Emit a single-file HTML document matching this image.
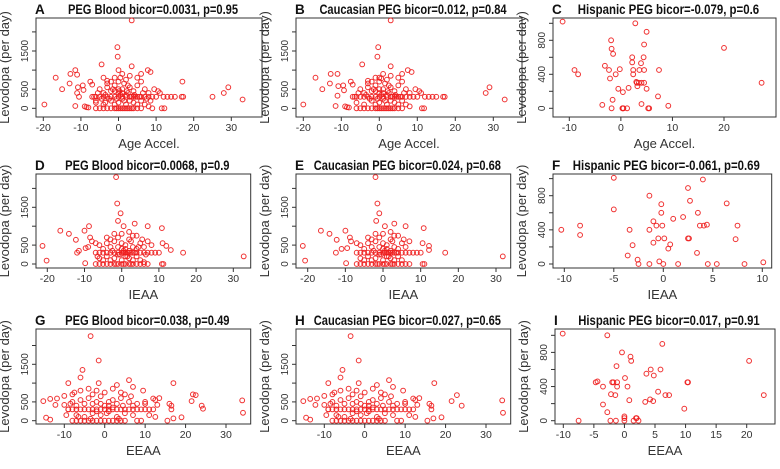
<!DOCTYPE html>
<html><head><meta charset="utf-8"><style>
body{margin:0;background:#fff;}
svg{display:block;font-family:"Liberation Sans",Arial,sans-serif;}
</style></head><body>
<svg id="fig" width="780" height="469" viewBox="0 0 780 469"></svg>
<script>
// ---------- data ----------
const bloodAgePts=[[-19.7,100],[-16.7,800],[-15,500],[-13,650],[-12.8,900],[-11.5,1000],[-11,880],[-11.5,60],[-11,400],[-10.8,550],[-10.5,300],[-9.5,600],[-9.3,480],[-9,50],[-8.5,30],[-8,20],[-7.5,700],[-7,620],[-6.5,300],[-6,200],[-4.5,1150],[-4,800],[-3,720],[-0.3,1600],[-0.2,1350],[3.5,2300],[3.5,1100],[0,1000],[7.8,1000],[8.5,950],[17,700],[25,300],[28,400],[29.2,550],[33,230],[11.5,0],[12.2,0],[15,300],[13,300],[16.8,300],[17.2,300],[14,300],[9.5,500],[10.5,450],[11,400],[12,300],
[-6,0],[-5,0],[-4,0],[-3,0],[-2,0],[-1,0],[0,0],[1,0],[2,0],[3,0],[4,0],[5,0],[6,0],[1.5,0],[2.5,0],[-0.5,0],[0.5,0],[3.5,0],
[-7,300],[-6,300],[-5,300],[-4,300],[-3,300],[-2,300],[-1,300],[0,300],[1,300],[2,300],[3,300],[4,300],[5,300],[6,300],[7,300],[8,300],[9,300],[10,300],[4.5,300],[5.5,300],[3.5,300],
[-5,500],[-4,400],[-3,550],[-2,450],[-1,600],[0,700],[0.5,800],[1,500],[1.5,650],[2,750],[2.5,400],[3,550],[4,450],[5,600],[6,700],[7,500],[8,400],[-6,150],[-4,100],[-2,200],[-1,100],[0,150],[1,250],[2,100],[3,200],[4,150],[5,100],[6,200],[7,100],[8,50],[9,0],[-3,650],[-1,800],[1,900],[3,850],[5,800],[6,900],[-2,700],[0,400],[0,500],[1,400],[2,350],[-1,450],[-0.5,250],[0.5,350],[1.5,200],[2.5,600],[-5.5,400],[-3.5,350],[-2.5,250],[-1.5,500],[0.2,450],[2.2,450],[4.2,350],[6.5,400],[7.5,250],[-4.5,250],[-3.5,150],[8.5,200]];
const caucAgePts=[[-20,100],[-16.8,800],[-15,500],[-13,650],[-12.8,900],[-11,900],[-11.5,60],[-11,330],[-10.8,580],[-9.5,600],[-9.3,470],[-9,50],[-8.5,30],[-8,20],[-7.5,700],[-7,620],[-6.5,300],[-4.5,1150],[-3,720],[-0.3,1600],[-0.5,1350],[3,2300],[3,1100],[0,800],[7.5,1000],[8.5,950],[28,400],[29,550],[33,230],[11.2,0],[11.8,0],[15,300],[13,300],[16.8,300],[17.2,300],[14,300],[9.5,500],[10.5,450],[11,400],[12,300],
[-6,0],[-5,0],[-4,0],[-3,0],[-2,0],[-1,0],[0,0],[1,0],[2,0],[3,0],[4,0],[5,0],[6,0],[1.5,0],[2.5,0],[-0.5,0],[0.5,0],[3.5,0],
[-7,300],[-6,300],[-5,300],[-4,300],[-3,300],[-2,300],[-1,300],[0,300],[1,300],[2,300],[3,300],[4,300],[5,300],[6,300],[7,300],[8,300],[9,300],[10,300],[4.5,300],[5.5,300],[3.5,300],
[-5,500],[-4,400],[-3,550],[-2,450],[-1,600],[0,700],[0.5,780],[1,500],[1.5,650],[2,750],[2.5,400],[3,550],[4,450],[5,600],[6,700],[7,500],[8,400],[-6,150],[-4,100],[-2,200],[-1,100],[0,150],[1,250],[2,100],[3,200],[4,150],[5,100],[6,200],[7,100],[8,50],[-3,650],[-1,800],[1,900],[3,850],[5,800],[6,900],[-2,700],[0,400],[0,500],[1,400],[2,350],[-1,450],[-0.5,250],[0.5,350],[1.5,200],[2.5,600],[-5.5,400],[-3.5,350],[-2.5,250],[-1.5,500],[2.2,450],[4.2,350],[6.5,400]];
const hispAgePts=[[-11.3,1020],[-9,450],[-8.3,400],[-3.6,40],[-3.1,500],[-2.3,450],[-2.1,350],[-1.9,800],[-1.8,700],[-1.5,640],[-1.6,100],[-1.8,0],[-1,400],[-0.5,230],[-0.2,460],[0.3,0],[0.5,0],[0.4,190],[0.4,0],[1.2,0],[1.5,240],[2.2,600],[2.2,540],[2.4,450],[2.4,400],[2.8,1000],[3,310],[3.1,300],[3.2,260],[3.5,300],[3.6,450],[3.9,530],[4,300],[4,50],[4.4,600],[4.5,750],[4.5,450],[4.5,300],[5,900],[5,230],[5.3,0],[5.5,0],[7.2,140],[7.4,450],[9.2,30],[20,710],[27.3,300]];
const bloodIeaaPts=[[-21.3,480],[-20.2,90],[-16.5,880],[-14.2,800],[-12.3,640],[-12,300],[-11.5,350],[-10,880],[-9.8,20],[-9.7,420],[-9,450],[-8.8,1000],[-8.5,700],[-8,600],[-1.5,2300],[-1.2,1600],[-0.3,1340],[-1,1140],[3.5,1070],[0.5,1000],[7,1000],[10.8,950],[16.5,300],[32.8,200],[12,480],[13.2,370],[10.8,0],[11.2,0],[11,550],[9,300],[10,300],[8,300],
[-7,0],[-6,0],[-5,0],[-4,0],[-3,0],[-2,0],[-1,0],[0,0],[1,0],[2,0],[3,0],[4,0],[5,0],[6,0],[7,0],[-1.5,0],[0.5,0],[2.5,0],
[-7,300],[-6,300],[-5,300],[-4,300],[-3,300],[-2,300],[-1,300],[0,300],[1,300],[2,300],[3,300],[4,300],[5,300],[6,300],[7,300],[1.5,300],[0.5,300],[2.5,300],
[-6,500],[-5,400],[-4,550],[-3,450],[-2,600],[-1,700],[0,800],[1,500],[2,650],[3,750],[4,400],[5,550],[6,450],[7,600],[8,500],[-6,150],[-5,100],[-4,200],[-3,100],[-2,150],[-1,250],[0,100],[1,200],[2,150],[3,100],[4,200],[5,100],[6,50],[-4,700],[-2,800],[2,850],[4,750],[-3,650],[-1,450],[0,400],[0,550],[1,400],[2,350],[3,450],[-0.5,250],[0.5,350],[1.5,200],[2.5,600],[-7,550],[-6.5,200],[6.5,250],[5.5,650],[-2.5,350],[3.5,300],[4.5,450]];
const caucIeaaPts=[[-21.3,480],[-20.7,90],[-16.5,880],[-14.2,800],[-12.3,640],[-12.5,300],[-11,400],[-10,880],[-9.8,20],[-9.5,420],[-8.8,700],[-8.5,600],[-2,2300],[-1.5,1600],[-1,1340],[-1.8,1140],[3,1070],[0.5,1000],[6,1000],[10.8,950],[16.5,300],[31.8,200],[12.2,480],[12.2,370],[10.5,0],[11,0],[10.5,550],[9,300],[10,300],[8,300],
[-7,0],[-6,0],[-5,0],[-4,0],[-3,0],[-2,0],[-1,0],[0,0],[1,0],[2,0],[3,0],[4,0],[5,0],[6,0],[7,0],[-1.5,0],[0.5,0],[2.5,0],
[-7,300],[-6,300],[-5,300],[-4,300],[-3,300],[-2,300],[-1,300],[0,300],[1,300],[2,300],[3,300],[4,300],[5,300],[6,300],[7,300],[1.5,300],[0.5,300],[2.5,300],
[-6,500],[-5,400],[-4,550],[-3,450],[-2,600],[-1,700],[0,800],[1,500],[2,650],[3,750],[4,400],[5,550],[6,450],[7,600],[-6,150],[-5,100],[-4,200],[-3,100],[-2,150],[-1,250],[0,100],[1,200],[2,150],[3,100],[4,200],[5,100],[-4,700],[-2,800],[2,850],[4,750],[-3,650],[-1,450],[0,400],[0,550],[1,400],[2,350],[3,450],[-0.5,250],[0.5,350],[1.5,200],[2.5,600],[-7,550],[5.5,650],[-2.5,350],[3.5,300]];
const hispIeaaPts=[[-10.3,400],[-8.4,450],[-8.4,340],[-5,1010],[-5,640],[-3.6,100],[-3.4,400],[-3.1,220],[-2.6,50],[-2.5,0],[-1.4,800],[-1.4,400],[-1.4,0],[-1,500],[-1,250],[-0.7,450],[-0.5,300],[-0.4,30],[-0.2,700],[-0.2,600],[-0.1,450],[0,0],[0.1,300],[0.5,180],[0.7,230],[1,530],[1.5,0],[2,550],[2.5,890],[2.5,300],[2.6,300],[2.7,740],[3.4,130],[3.5,600],[3.7,450],[4,990],[4.1,450],[4.4,460],[4.5,0],[5.4,0],[6.4,710],[7.3,290],[7.5,450],[8.2,0],[10.1,20]];
const bloodEeaaPts=[[-15.2,520],[-14.5,80],[-13.5,30],[-13.5,580],[-12.2,420],[-11.8,590],[-10,660],[-9,1000],[-10,420],[-9,300],[-8,700],[-7.5,750],[-6,1150],[-5.5,1350],[-3.5,2250],[-1.5,1600],[-1.5,1000],[6,1080],[7,900],[9.5,800],[17,1000],[19,90],[17,60],[15.5,0],[21.5,520],[21.8,700],[22.5,680],[24,400],[24.3,320],[34,540],[34.2,210],[16,450],[16.5,400],[16.5,300],[12,590],[12.5,550],[13.5,600],[13,420],[12.5,100],[11,150],[10,500],
[-8,0],[-7,0],[-6,0],[-5,0],[-4,0],[-3,0],[-2,0],[-1,0],[0,0],[1,0],[2,0],[3,0],[4,0],[5,0],[8,0],[9,0],[-6.5,100],[-3.5,50],[3.5,50],
[-9,300],[-8,300],[-7,300],[-6,300],[-5,300],[-4,300],[-3,300],[-2,300],[-1,300],[0,300],[1,300],[2,300],[3,300],[4,300],[5,300],[6,300],[7,300],[8,300],[9,300],[10,300],[11,300],[12,300],
[-8,500],[-7,400],[-6,550],[-5,450],[-4,600],[-3,700],[-2,500],[-1,650],[0,750],[1,400],[2,550],[3,450],[4,600],[5,700],[6,500],[7,400],[8,450],[-7,150],[-5,100],[-3,200],[-1,150],[1,250],[3,100],[5,200],[7,150],[-6,800],[-4,850],[-2,800],[2,850],[3,950],[4,750],[-3,450],[0,400],[1,500],[2,350],[-1,450],[-2,250],[0.5,200],[4.5,400],[-9.5,150],[-8.5,450],[6.5,650],[10,450]];
const caucEeaaPts=[[-15.2,520],[-14.5,80],[-13.5,30],[-13.5,580],[-12.2,420],[-11.8,590],[-10,660],[-9,1000],[-10,420],[-9,300],[-8,700],[-7.5,750],[-6,1150],[-5.5,1350],[-3.5,2250],[-1.5,1600],[-1.5,1000],[6,1080],[7,900],[9.5,800],[17.2,1000],[19,90],[17,60],[15.5,0],[21.5,520],[22.8,680],[24,400],[34,540],[34.2,210],[16,450],[16.5,400],[16.5,300],[12,590],[12.5,550],[13.5,600],[13,420],[12.5,100],[11,150],[10,500],
[-8,0],[-7,0],[-6,0],[-5,0],[-4,0],[-3,0],[-2,0],[-1,0],[0,0],[1,0],[2,0],[3,0],[4,0],[5,0],[8,0],[9,0],[-6.5,100],[-3.5,50],[3.5,50],
[-9,300],[-8,300],[-7,300],[-6,300],[-5,300],[-4,300],[-3,300],[-2,300],[-1,300],[0,300],[1,300],[2,300],[3,300],[4,300],[5,300],[6,300],[7,300],[8,300],[9,300],[10,300],[11,300],[12,300],
[-8,500],[-7,400],[-6,550],[-5,450],[-4,600],[-3,700],[-2,500],[-1,650],[0,750],[1,400],[2,550],[3,450],[4,600],[5,700],[6,500],[7,400],[8,450],[-7,150],[-5,100],[-3,200],[-1,150],[1,250],[3,100],[5,200],[7,150],[-6,800],[-4,850],[-2,800],[2,850],[3,950],[4,750],[-3,450],[0,400],[1,500],[2,350],[-1,450],[-2,250],[0.5,200],[4.5,400],[-9.5,150],[-8.5,450],[6.5,650],[10,450]];
const hispEeaaPts=[[-10.1,1020],[-7.5,0],[-4.7,450],[-4.4,460],[-3.5,400],[-3.5,190],[-2.8,1000],[-2.8,100],[-2.3,0],[-2.2,310],[-2,450],[-1.8,450],[-1.5,300],[-1.4,0],[-1.3,640],[-1.2,450],[-1.2,400],[-0.4,800],[0,50],[0,30],[0,0],[0.1,500],[0.5,400],[0.8,240],[1,750],[1.1,700],[1.5,0],[1.9,30],[2,30],[2.3,0],[3.4,220],[3.6,550],[4.2,250],[4.3,600],[4.7,230],[4.8,530],[5.5,340],[5.9,600],[6.2,900],[6.7,300],[7.3,300],[9.8,140],[10.3,450],[10.4,450],[20.4,700],[22.8,300]];

const titles=["PEG Blood bicor=0.0031, p=0.95","Caucasian PEG bicor=0.012, p=0.84","Hispanic PEG bicor=-0.079, p=0.6","PEG Blood bicor=0.0068, p=0.9","Caucasian PEG bicor=0.024, p=0.68","Hispanic PEG bicor=-0.061, p=0.69","PEG Blood bicor=0.038, p=0.49","Caucasian PEG bicor=0.027, p=0.65","Hispanic PEG bicor=0.017, p=0.91"];
const letters=["A","B","C","D","E","F","G","H","I"];
const xLabels=["Age Accel.","IEAA","EEAA"];
const bigYTicks=[0,500,1000,1500,2000];
const bigYLabels=[0,500,1500];
const hispYTicks=[0,200,400,600,800,1000];
const hispYLabels=[0,400,800];
const xTicksA=[-20,-10,0,10,20,30];
const xTicksC=[-10,0,10,20];
const xTicksF=[-10,-5,0,5,10];
const xTicksG=[-10,0,10,20,30];
const xTicksI=[-10,-5,0,5,10,15,20];

// ---------- layout ----------
const rows=[{top:18,bot:117,y0:108.3,kb:57.3/1500,kh:68/800},{top:174,bot:268,y0:264,kb:56.7/1500,kh:68.3/800},{top:329,bot:424,y0:420.7,kb:56.4/1500,kh:68.3/800}];
const panels=[
 {pts:bloodAgePts,r:0,l:36,rt:262,xa:-20,pa:43.3,xb:30,pb:231.3,xt:xTicksA,h:false},
 {pts:caucAgePts,r:0,l:296,rt:522,xa:-20,pa:303.3,xb:30,pb:493.3,xt:xTicksA,h:false},
 {pts:hispAgePts,r:0,l:553,rt:776,xa:-10,pa:569.3,xb:20,pb:724,xt:xTicksC,h:true},
 {pts:bloodIeaaPts,r:1,l:36,rt:250.7,xa:-20,pa:47.3,xb:30,pb:233.3,xt:xTicksA,h:false},
 {pts:caucIeaaPts,r:1,l:296,rt:510.7,xa:-20,pa:307.7,xb:30,pb:496,xt:xTicksA,h:false},
 {pts:hispIeaaPts,r:1,l:553,rt:771.7,xa:-10,pa:564.3,xb:10,pb:762.3,xt:xTicksF,h:true},
 {pts:bloodEeaaPts,r:2,l:36,rt:250.7,xa:-10,pa:64.3,xb:30,pb:226,xt:xTicksG,h:false},
 {pts:caucEeaaPts,r:2,l:296,rt:510.7,xa:-10,pa:324.3,xb:30,pb:486,xt:xTicksG,h:false},
 {pts:hispEeaaPts,r:2,l:555,rt:775,xa:-10,pa:563.3,xb:20,pb:746.7,xt:xTicksI,h:true}
];
const NS="http://www.w3.org/2000/svg";
const svg=document.getElementById('fig');
function mk(tag,attrs,parent,text){const e=document.createElementNS(NS,tag);for(const k in attrs)e.setAttribute(k,attrs[k]);if(text!==undefined)e.textContent=text;(parent||svg).appendChild(e);return e;}

panels.forEach((p,i)=>{
 const R=rows[p.r];
 const g=mk('g',{});
 
 
 const sx=v=>p.pa+(v-p.xa)*(p.pb-p.pa)/(p.xb-p.xa);
 const k=p.h?R.kh:R.kb;
 const sy=v=>R.y0-v*k;
 const box=mk('rect',{x:p.l,y:R.top,width:p.rt-p.l,height:R.bot-R.top,fill:'none',stroke:'#333','stroke-width':1},g);
 
 
 const pg=mk('g',{},g);
 
 
 p.pts.forEach(d=>{
  const c=mk('circle',{cx:sx(d[0]).toFixed(1),cy:sy(d[1]).toFixed(1),r:2.4,fill:'none',stroke:'#ee1c1c','stroke-width':1,'stroke-opacity':0.9},pg);
  
  
 });
 const xg=mk('g',{},g);
 
 
 mk('line',{x1:sx(p.xt[0]),x2:sx(p.xt[p.xt.length-1]),y1:R.bot,y2:R.bot,stroke:'#333'},xg);
 p.xt.forEach(t=>{
  mk('line',{x1:sx(t),x2:sx(t),y1:R.bot,y2:R.bot+4,stroke:'#333'},xg);
  const tl=mk('text',{x:sx(t),y:R.bot+14,'font-size':10.5,'text-anchor':'middle',fill:'#333'},xg,String(t));
  
  
 });
 const xl=mk('text',{x:(p.l+p.rt)/2,y:R.bot+31,'font-size':13,'text-anchor':'middle',fill:'#333'},g,xLabels[p.r]);
 
 
 const yt=p.h?hispYTicks:bigYTicks, yl=p.h?hispYLabels:bigYLabels;
 const yg=mk('g',{},g);
 
 
 mk('line',{x1:p.l,x2:p.l,y1:sy(yt[0]),y2:sy(yt[yt.length-1]),stroke:'#333'},yg);
 yt.forEach(t=>mk('line',{x1:p.l-4,x2:p.l,y1:sy(t),y2:sy(t),stroke:'#333'},yg));
 yl.forEach(t=>{
  const x=p.l-8,y=sy(t);
  const tl=mk('text',{x:x,y:y,'font-size':10,'text-anchor':'middle',fill:'#333',transform:`rotate(-90 ${x} ${y})`},yg,String(t));
  
  
 });
 const ylx=p.l-27, yly=(R.top+R.bot)/2;
 const ylab=mk('text',{x:ylx,y:yly,'font-size':13,'text-anchor':'middle',fill:'#333',transform:`rotate(-90 ${ylx} ${yly})`},g,'Levodopa (per day)');
 
 
 const lt=mk('text',{x:p.l-1,y:R.top-4,'font-size':13.5,'font-weight':'bold',fill:'#111'},g,letters[i]);
 
 
 const tw=titles[i].length*5.67;
 const tt=mk('text',{x:(p.l+p.rt)/2+4-tw/2,y:R.top-4,'font-size':13.5,'font-weight':'bold',fill:'#111',textLength:tw.toFixed(1),lengthAdjust:'spacingAndGlyphs'},g,titles[i]);
 
 
});
</script>
</body></html>
